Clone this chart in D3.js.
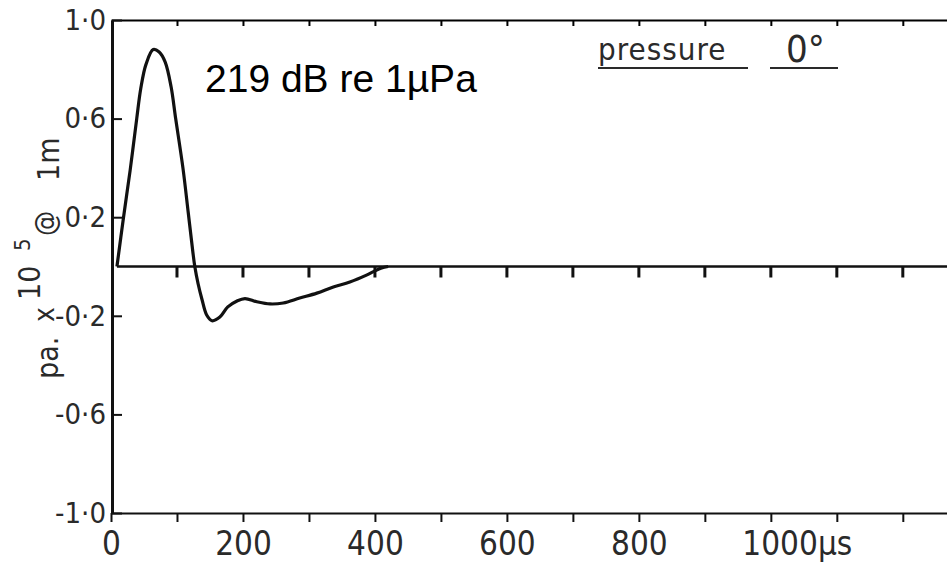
<!DOCTYPE html>
<html>
<head>
<meta charset="utf-8">
<script src="https://cdn.jsdelivr.net/npm/d3@7"></script>
<style>
  body { margin: 0; background: #fff; }
  svg { display: block; }
  .scan { font-family: "Liberation Sans Narrow", "DejaVu Sans Condensed", "Roboto Condensed", sans-serif; font-stretch: condensed; fill: #2a2a2a; }
  .note { font-family: "Liberation Sans", Arial, sans-serif; fill: #000; }
</style>
</head>
<body>
<svg id="chart" width="947" height="574"></svg>
<script>
// waveform: time in microseconds, pressure in units of 1e5 Pa @ 1m
var timeUs   = [9, 19, 29, 39, 45, 53, 64, 73, 82, 91, 98, 109, 117, 124, 127,
                132, 138, 145, 153, 165, 177, 191, 203, 221, 241, 261, 286, 312, 337, 362, 388, 397, 410, 420];
var pressure = [0, 0.20, 0.39, 0.60, 0.72, 0.82, 0.88, 0.87, 0.83, 0.73, 0.60, 0.40, 0.22, 0.06, 0,
                -0.07, -0.135, -0.197, -0.22, -0.205, -0.164, -0.14, -0.13, -0.143, -0.152, -0.148, -0.128, -0.108, -0.083, -0.063, -0.034, -0.022, -0.006, 0];

var xTicks = [100, 200, 300, 400, 500, 600, 700, 800, 900, 1000, 1100, 1200];
var xLabels = {0: "0", 200: "200", 400: "400", 600: "600", 800: "800", 1000: "1000"};
var yTicks = [1.0, 0.6, 0.2, -0.2, -0.6, -1.0];
var yLabels = ["1·0", "0·6", "0·2", "-0·2", "-0·6", "-1·0"];

var svg = d3.select("#chart");

var xScale = d3.scaleLinear().domain([0, 1270]).range([111, 949]);
var yScale = d3.scaleLinear().domain([-1, 1]).range([513, 20]);

//////////////////////////// FRAME & AXES ////////////////////////////
// top edge, ticks hanging inward
svg.append("g")
    .attr("transform", "translate(0," + yScale(1) + ")")
    .call(d3.axisBottom(xScale).tickValues(xTicks).tickSize(6).tickSizeOuter(0).tickFormat(""))
    .call(function(g) { g.select(".domain").attr("stroke-width", 2); })
    .selectAll("line").attr("stroke-width", 2);

// bottom edge with labels
var bottom = svg.append("g")
    .attr("class", "scan")
    .attr("transform", "translate(0," + yScale(-1) + ")")
    .call(d3.axisBottom(xScale)
            .tickValues([0].concat(xTicks))
            .tickSize(9).tickSizeOuter(0).tickPadding(10)
            .tickFormat(function(d) { return xLabels[d] || ""; }));
bottom.select(".domain").attr("stroke-width", 2).attr("stroke", "#111");
bottom.selectAll("line").attr("stroke-width", 2).attr("stroke", "#111");
bottom.selectAll("text")
    .attr("font-size", 33)
    .attr("fill", "#2a2a2a")
    .attr("font-family", null);
bottom.selectAll(".tick").filter(function(d) { return d == 1000; })
    .select("text")
    .attr("text-anchor", "start")
    .attr("x", -29)
    .append("tspan").text("µs");

// left edge, ticks pointing inward
var left = svg.append("g")
    .attr("class", "scan")
    .attr("transform", "translate(112,0)")
    .call(d3.axisLeft(yScale)
            .tickValues(yTicks)
            .tickSizeInner(-10).tickSizeOuter(0).tickPadding(6)
            .tickFormat(function(d, i) { return yLabels[i]; }));
left.select(".domain").attr("stroke-width", 3).attr("stroke", "#111");
left.selectAll("line").attr("stroke-width", 2).attr("stroke", "#111");
left.selectAll("text")
    .attr("font-size", 29)
    .attr("fill", "#2a2a2a")
    .attr("font-family", null);

// zero line with its hanging ticks
svg.append("line")
    .attr("x1", xScale(timeUs[0])).attr("x2", 947)
    .attr("y1", yScale(0)).attr("y2", yScale(0))
    .attr("stroke", "#111").attr("stroke-width", 2.5);

svg.append("g")
    .selectAll("line")
    .data(xTicks)
    .enter()
    .append("line")
    .attr("x1", function(d) { return xScale(d); })
    .attr("x2", function(d) { return xScale(d); })
    .attr("y1", yScale(0))
    .attr("y2", yScale(0) + 11)
    .attr("stroke", "#111").attr("stroke-width", 3);

//////////////////////////// WAVEFORM ////////////////////////////
var line = d3.line()
    .x(function(d, i) { return xScale(timeUs[i]); })
    .y(function(d) { return yScale(d); })
    .curve(d3.curveCatmullRom.alpha(0.5));

svg.append("path")
    .datum(pressure)
    .attr("d", line)
    .attr("fill", "none")
    .attr("stroke", "#111")
    .attr("stroke-width", 3.2)
    .attr("stroke-linejoin", "round");

//////////////////////////// TEXT ////////////////////////////
// rotated axis title "pa. x10^5 @1m", pieces placed where the scan shows them
var titleBits = [
  {t: "pa.", x: 58, y: 379, s: 30},
  {t: "x",   x: 54, y: 322, s: 28},
  {t: "10",  x: 40, y: 300, s: 30},
  {t: "5",   x: 30, y: 251, s: 22},
  {t: "@",   x: 55, y: 236, s: 28},
  {t: "1m",  x: 59, y: 181, s: 30}
];
svg.append("g").attr("class", "scan")
    .selectAll("text")
    .data(titleBits)
    .enter()
    .append("text")
    .attr("transform", function(d) { return "translate(" + d.x + "," + d.y + ") rotate(-90)"; })
    .attr("font-size", function(d) { return d.s; })
    .text(function(d) { return d.t; });

svg.append("text")
    .attr("class", "note")
    .attr("x", 205).attr("y", 92)
    .attr("font-size", 39)
    .text("219 dB re 1µPa");

var legend = svg.append("g").attr("class", "scan");
legend.append("text")
    .attr("x", 598).attr("y", 60)
    .attr("font-size", 31)
    .attr("letter-spacing", 1)
    .text("pressure");
legend.append("line")
    .attr("x1", 598).attr("x2", 748).attr("y1", 68).attr("y2", 68)
    .attr("stroke", "#2a2a2a").attr("stroke-width", 2);
legend.append("text")
    .attr("x", 786).attr("y", 62)
    .attr("font-size", 38)
    .text("0°");
legend.append("line")
    .attr("x1", 770).attr("x2", 838).attr("y1", 68).attr("y2", 68)
    .attr("stroke", "#2a2a2a").attr("stroke-width", 2);
</script>
</body>
</html>
